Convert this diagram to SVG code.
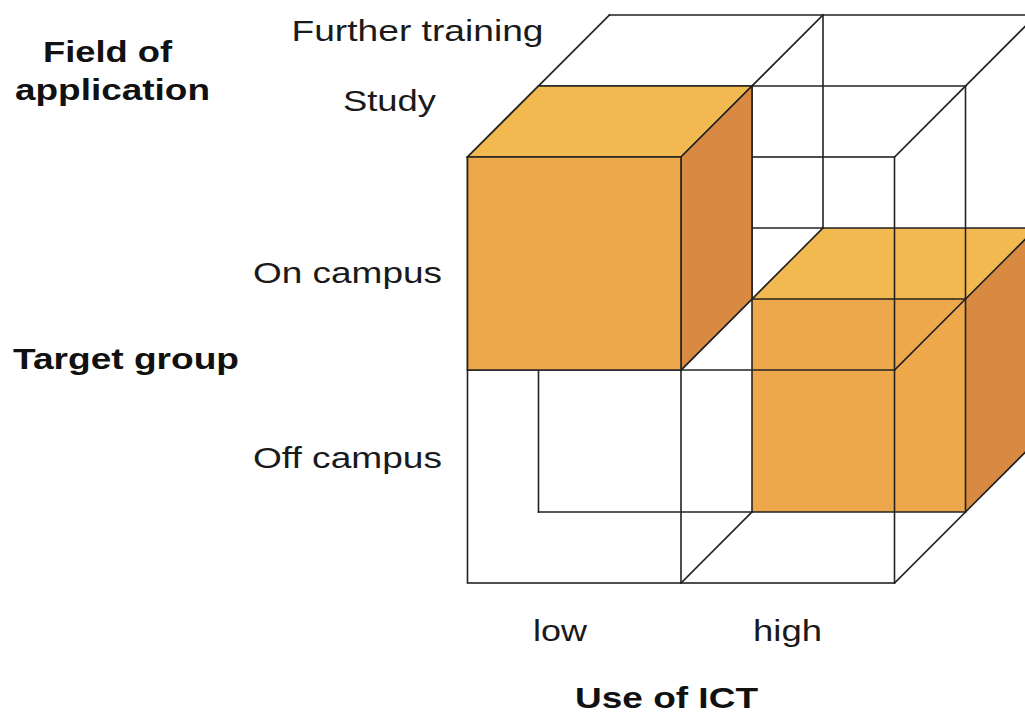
<svg xmlns="http://www.w3.org/2000/svg" width="1025" height="715" viewBox="0 0 1025 715">
  <style>
    .edge { stroke: #222; stroke-width: 1.6; fill: none; stroke-linecap: square; }
    .front { fill: #EEA84C; }
    .top { fill: #F2B950; }
    .side { fill: #D88A42; }
    .solid { stroke: #222; stroke-width: 1.6; stroke-linejoin: miter; }
    .lbl { font-family: "Liberation Sans", Arial, Helvetica, sans-serif; font-size: 30px; fill: #1a1a1a; }
    .axis { font-family: "Liberation Sans", Arial, Helvetica, sans-serif; font-size: 30px; font-weight: bold; fill: #111; }
  </style>

  <rect width="1025" height="715" fill="#fff"/>

  <!-- highlighted cell: high ICT / off campus / further training (back layer) -->
  <g id="cube-high-off-further">
    <polygon class="front" points="752,299 965.5,299 965.5,512 752,512"/>
    <polygon class="top" points="752,299 965.5,299 1036.5,228 823,228"/>
    <polygon class="side" points="965.5,299 1036.5,228 1036.5,441 965.5,512"/>
  </g>

  <!-- wireframe of the 2x2x2 block (visible edges only) -->
  <g id="grid" class="edge">
    <!-- front plane -->
    <rect x="467.5" y="157" width="427" height="426"/>
    <line x1="681" y1="157" x2="681" y2="583"/>
    <line x1="467.5" y1="370" x2="894.5" y2="370"/>
    <!-- top face -->
    <line x1="609.5" y1="15" x2="1036.5" y2="15"/>
    <line x1="538.5" y1="86" x2="965.5" y2="86"/>
    <line x1="467.5" y1="157" x2="609.5" y2="15"/>
    <line x1="681" y1="157" x2="823" y2="15"/>
    <line x1="894.5" y1="157" x2="1036.5" y2="15"/>
    <!-- right face -->
    <line x1="965.5" y1="86" x2="965.5" y2="512"/>
    <line x1="894.5" y1="370" x2="1036.5" y2="228"/>
    <line x1="894.5" y1="583" x2="1036.5" y2="441"/>
    <!-- interior -->
    <line x1="823" y1="15" x2="823" y2="228"/>
    <line x1="752" y1="228" x2="1036.5" y2="228"/>
    <line x1="752" y1="86" x2="752" y2="512"/>
    <line x1="752" y1="299" x2="965.5" y2="299"/>
    <line x1="538.5" y1="512" x2="965.5" y2="512"/>
    <line x1="538.5" y1="370" x2="538.5" y2="512"/>
    <line x1="681" y1="583" x2="752" y2="512"/>
    <line x1="681" y1="370" x2="752" y2="299"/>
    <line x1="752" y1="299" x2="823" y2="228"/>
  </g>

  <!-- highlighted cell: low ICT / on campus / study (front layer) -->
  <g id="cube-low-on-study">
    <polygon class="top solid" points="467.5,157 681,157 752,86 538.5,86"/>
    <polygon class="side solid" points="681,157 752,86 752,299 681,370"/>
    <polygon class="front solid" points="467.5,157 681,157 681,370 467.5,370"/>
  </g>

  <!-- depth axis: field of application -->
  <g id="axis-field">
    <text class="axis" x="43" y="62" textLength="129" lengthAdjust="spacingAndGlyphs">Field of</text>
    <text class="axis" x="15" y="100" textLength="195" lengthAdjust="spacingAndGlyphs">application</text>
    <text class="lbl" x="291.5" y="41" textLength="252" lengthAdjust="spacingAndGlyphs">Further training</text>
    <text class="lbl" x="343" y="111" textLength="93" lengthAdjust="spacingAndGlyphs">Study</text>
  </g>

  <!-- vertical axis: target group -->
  <g id="axis-target">
    <text class="axis" x="13" y="369" textLength="226" lengthAdjust="spacingAndGlyphs">Target group</text>
    <text class="lbl" x="253" y="283" textLength="189" lengthAdjust="spacingAndGlyphs">On campus</text>
    <text class="lbl" x="253" y="468" textLength="189" lengthAdjust="spacingAndGlyphs">Off campus</text>
  </g>

  <!-- horizontal axis: use of ICT -->
  <g id="axis-ict">
    <text class="lbl" x="533" y="641" textLength="54" lengthAdjust="spacingAndGlyphs">low</text>
    <text class="lbl" x="753" y="641" textLength="69" lengthAdjust="spacingAndGlyphs">high</text>
    <text class="axis" x="575" y="708" textLength="183" lengthAdjust="spacingAndGlyphs">Use of ICT</text>
  </g>
</svg>
